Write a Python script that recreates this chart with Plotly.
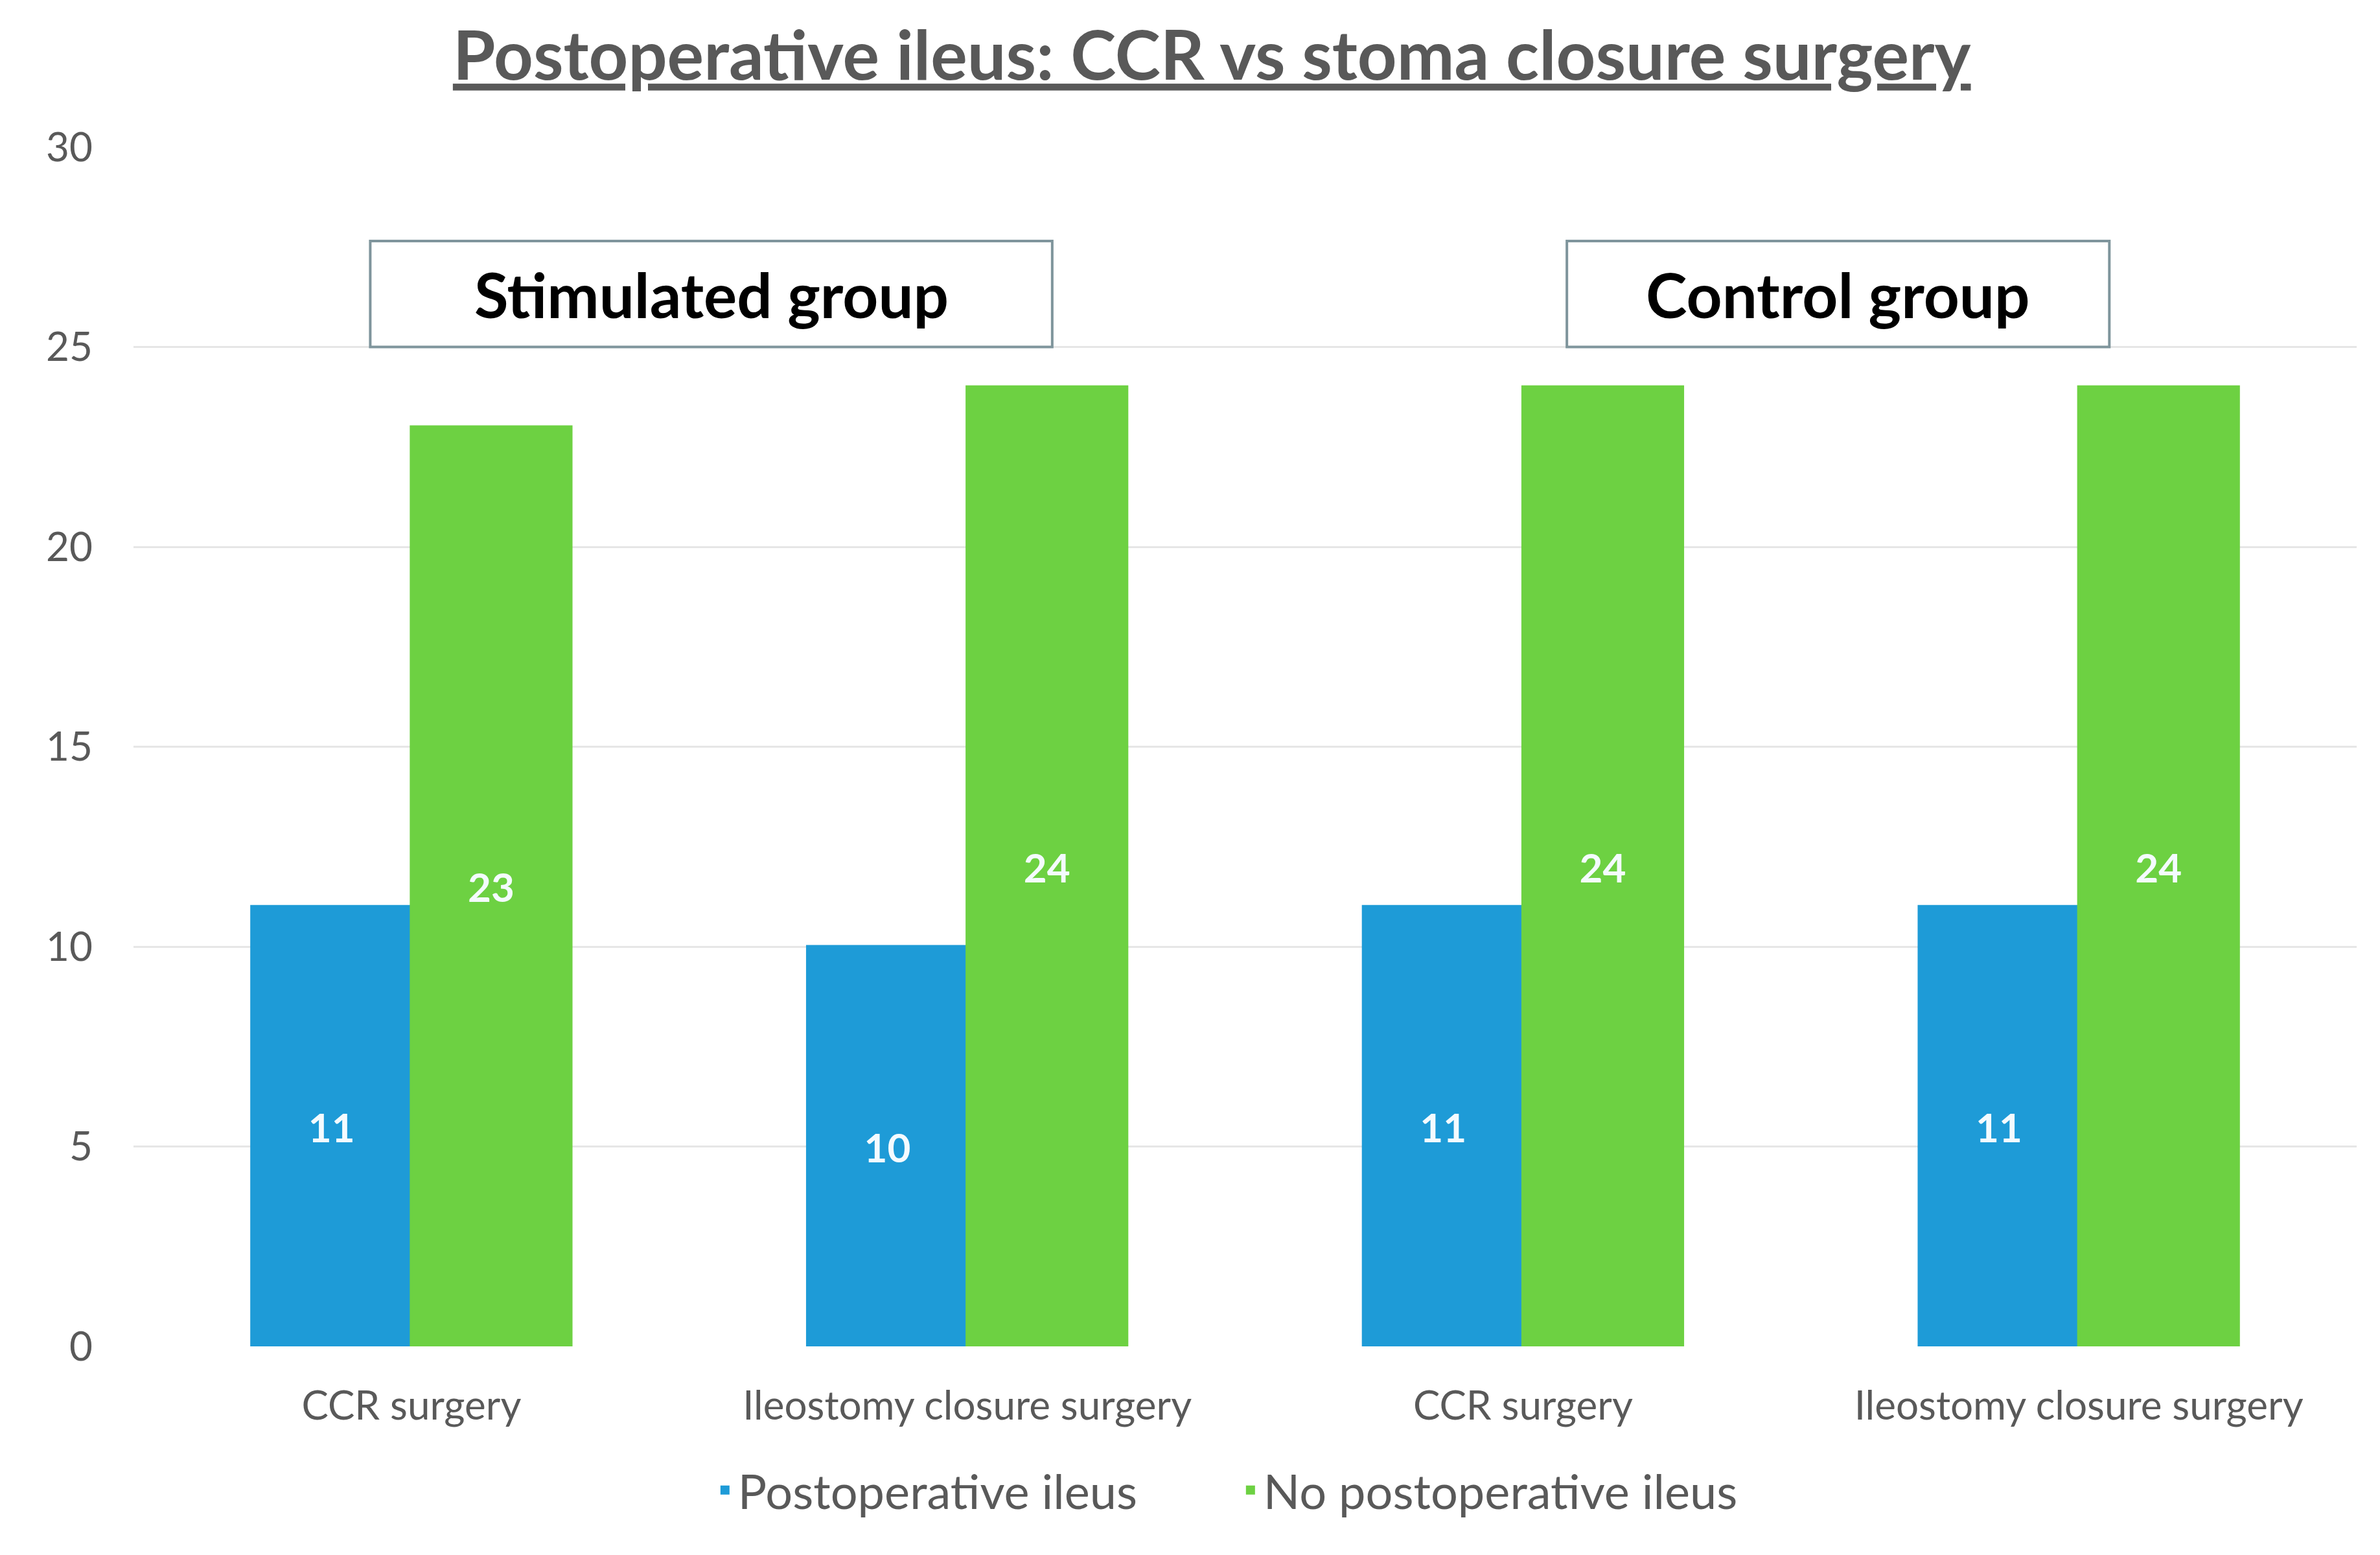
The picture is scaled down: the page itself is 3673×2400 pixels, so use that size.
import plotly.graph_objects as go

categories = ["CCR surgery", "Ileostomy closure surgery", "CCR surgery", "Ileostomy closure surgery"]
groups = ["Stimulated group", "Control group"]
ileus = [11, 10, 11, 11]
no_ileus = [23, 24, 24, 24]
y_ticks = [0, 5, 10, 15, 20, 25, 30]
series_names = ["Postoperative ileus", "No postoperative ileus"]

BLUE = "#1E9BD7"
GREEN = "#6DD142"
GRAY = "#595959"
FONT = "Lato"

xpos = list(range(len(categories)))

fig = go.Figure()
for name, vals, col in [(series_names[0], ileus, BLUE), (series_names[1], no_ileus, GREEN)]:
    fig.add_trace(go.Bar(
        x=xpos, y=vals, name=name,
        marker=dict(color=col, line=dict(color=col, width=5)),
        text=[str(v) for v in vals],
        textposition="inside", insidetextanchor="middle",
        insidetextfont=dict(family=FONT, size=62, color="#F4FBFF", weight="bold"),
        textangle=0,
    ))

fig.update_layout(
    width=3673, height=2400,
    margin=dict(l=198, r=44, t=219, b=330),
    paper_bgcolor="white", plot_bgcolor="white",
    barmode="group", bargap=0.426, bargroupgap=0,
    font=dict(family=FONT, color=GRAY),
    title=dict(
        text="<u>Postoperative ileus: CCR vs stoma closure surgery</u>",
        x=0.507, xanchor="center", y=1 - 78 / 2400, yanchor="middle", yref="container",
        font=dict(family=FONT, size=106, color=GRAY, weight="bold"),
    ),
    xaxis=dict(
        tickmode="array", tickvals=xpos, ticktext=categories,
        range=[-0.5, len(categories) - 0.5],
        tickfont=dict(family=FONT, size=62, color=GRAY),
        showgrid=False, zeroline=False, showline=False, ticks="",
        ticklabelstandoff=50,
    ),
    yaxis=dict(
        range=[0, 30], tickvals=y_ticks,
        tickfont=dict(family=FONT, size=62, color=GRAY),
        showgrid=True, gridcolor="#E6E6E6", gridwidth=3,
        zeroline=False, showline=False, ticks="",
        ticklabelstandoff=62,
    ),
    legend=dict(
        orientation="h", x=0.4966, xanchor="center", y=-0.12, yanchor="middle",
        font=dict(family=FONT, size=74, color=GRAY),
        itemsizing="constant", entrywidth=766, traceorder="normal",
    ),
)

# group label boxes
box_specs = [(groups[0], -0.074, 1.153), (groups[1], 2.079, 3.055)]
for label, x0, x1 in box_specs:
    fig.add_shape(type="rect", xref="x", yref="y", x0=x0, x1=x1, y0=25, y1=27.65,
                  line=dict(color="#7F959C", width=4), fillcolor="white", layer="above")
    fig.add_annotation(x=(x0 + x1) / 2, y=26.33, xref="x", yref="y", text=label,
                       showarrow=False, font=dict(family=FONT, size=96, color="black", weight="bold"))

fig.write_html("out.html")
